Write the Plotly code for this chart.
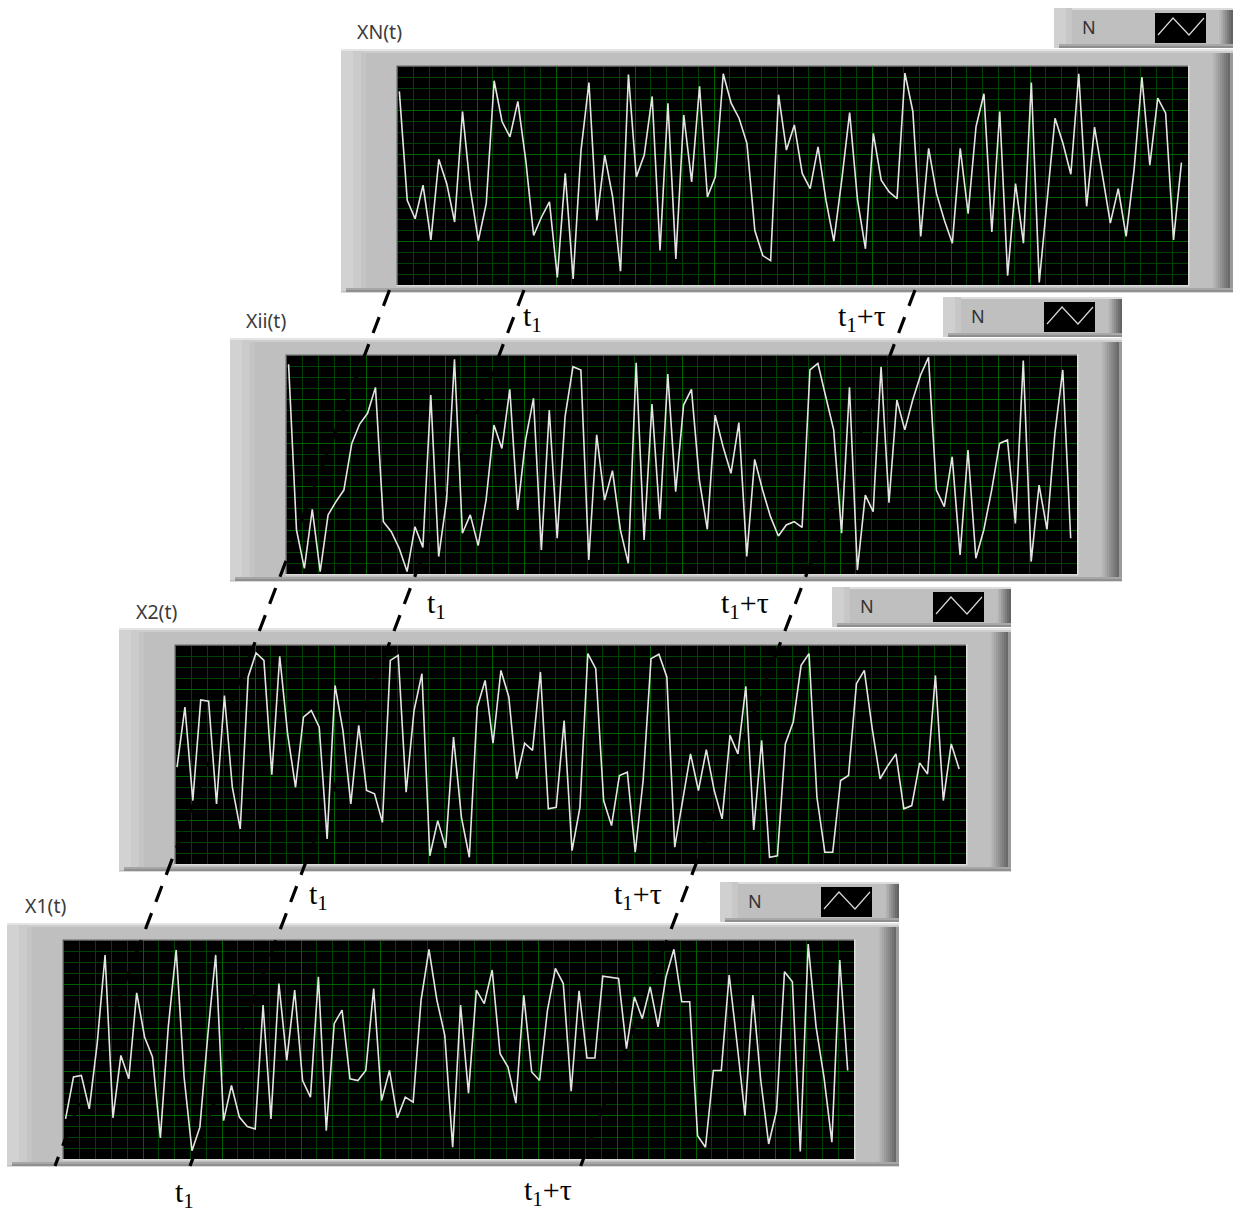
import plotly.graph_objects as go

W, H = 1238, 1209

sample_index = list(range(100))

xN_values = [88.8,38.9,30.4,45.8,20.7,57.6,46.5,28.9,79.6,43.5,20.4,37.3,93.7,75,68,84.2,57.3,22.7,31.2,38.1,
             3.5,51.2,2.8,61.9,92.9,29.6,59.6,40.4,6.3,96.5,49.6,59.6,86.5,15.8,83.4,12,78,47.3,91.1,40.4,
             49.6,96.9,83.4,76.5,65,25,13.5,11.2,87.3,61.9,73.4,51.2,44.2,63.4,38.9,20.1,48.1,79.1,38.9,16.6,
             69.6,48.1,42.7,39.6,97.2,79.6,22.3,62.7,41.9,29.6,19.2,62.7,32.7,72.7,87.7,24.3,79.6,4.3,46.5,19.2,
             92.9,1.2,38.9,76.5,65,50.8,96.9,36.1,72.4,51.2,28.4,44.2,22.3,52.7,95.4,55,85.7,78.8,20.7,56.1]

xii_values = [96.2,20.2,2.6,29.7,1.1,27.1,33.2,38.5,59.9,68.8,73.7,85.6,24,19.4,11.8,1.1,21.7,12.2,82.1,8,
              33.9,98.5,18.7,27.1,13,33.9,68.3,57.6,84.7,29.4,61.5,80.6,11,75.2,16.4,72.2,95.1,93.6,6.4,63.8,
              33.9,47.4,20.2,4.9,96.9,15.6,78,25.1,91.7,37.8,77.5,84.7,43.1,20.5,72.9,58.4,46.2,69.4,8,52.6,
              38.5,26.3,17.4,22.5,24,21.4,93.6,96.6,81.3,66.1,18.7,85.6,1.8,36.2,28.6,95.1,32.7,79.8,66.1,79.8,
              91.3,99.4,38.5,30.9,53.8,8.7,56.9,7.2,20.2,38.5,59.9,61.5,23.2,97.9,5.7,40.8,20.5,64.5,93.6,16.4]

x2_values = [44.4,72,29.1,75.3,74.7,27.6,77.3,35.2,16.1,85.8,96.8,93.4,41,95.3,59.7,35.2,67.4,70.4,62.8,11.5,
             81.9,61.3,27.6,63.6,33.7,32.2,19.1,93.4,95.7,32.9,70.4,87.3,3.8,19.9,7.4,58.2,21.4,3.1,72,84.2,
             55.4,88.8,76.6,39.1,55.4,52.1,88.1,25.3,26,65.8,6.1,26,96.5,89.6,29.1,17.6,40.6,42.1,5.4,38.3,
             94.2,96.2,85.8,7.7,29.1,50.5,33.7,52.4,33.7,20.7,59,50.5,81.5,15.6,56.7,3.1,3.8,55.1,65.1,91.1,
             96.5,30.6,5.4,5.4,38.3,40.6,82.7,88.8,62,39.1,45.2,50.5,25.3,26.8,46.4,41.3,86.5,29.1,55.1,43.6]

x1_values = [18.4,37.6,38.3,23,52.9,93.6,18.9,47.5,36.8,76.2,56,46.8,9.7,60.6,95.9,37.6,3.8,14.6,56.7,93.6,
             17.6,33.7,19.2,14.9,13.8,70.6,18.4,80.5,45.2,77.5,36,28.4,83.6,13,62.1,68.3,36.8,36,40.6,78.2,
             26.8,40.6,18.9,28.4,26.1,72.9,96.2,72.9,56.7,5.4,70.6,30.2,77.5,71.3,86.7,48.3,42.2,25.6,75.2,39.9,
             36,68.3,87.4,80.5,31.1,77.1,46.3,46.3,83.9,83.3,82.8,50.6,74.4,64.4,79,60.6,83.6,96.2,72.1,72.1,
             10.7,5.4,40.6,40.6,84.4,52.9,19.9,75.2,36,6.9,22.2,85.9,81.3,3.5,98.6,60.6,37.6,7.7,91.3,40.6]

series_names = ["XN(t)", "Xii(t)", "X2(t)", "X1(t)"]
series_values = [xN_values, xii_values, x2_values, x1_values]
box_label = "N"
t1_label = "t<sub>1</sub>"
t1_tau_label = "t<sub>1</sub>+τ"

# panel origin: offset of each instrument panel relative to the top one
offsets = [(0, 0), (-111, 289), (-222, 579), (-334, 874)]
first_sample_shift = [0.17, 0.2, 0.13, 0.2]
name_positions = [(380, 32), (265.5, 322), (156, 612), (45, 906)]


def px(x):
    return x / W


def py(y):
    return 1 - y / H


shapes = []


def rect(x0, y0, x1, y1, color):
    shapes.append(dict(type="rect", xref="paper", yref="paper", layer="below",
                       x0=px(x0), x1=px(x1), y0=py(y0), y1=py(y1),
                       fillcolor=color, line=dict(width=0)))


def hex_gray(v):
    return f"#{v:02x}{v:02x}{v:02x}"


def control_box(dx, dy):
    x0, x1, y0, y1 = 1054 + dx, 1233 + dx, 8 + dy, 48 + dy
    rect(x0, y0, x1, y1, "#bfbfbf")
    rect(x0, y0, x1, y0 + 2, "#dcdcdc")
    rect(x0, y0, x0 + 12, y1, "#d0d0d0")
    rect(x0 + 12, y0, x0 + 18, y1, "#c7c7c7")
    for i, g in enumerate([184, 170, 155, 140, 125, 110, 100]):
        rect(x1 - 14 + 2 * i, y0 + 2, x1 - 12 + 2 * i, y1, hex_gray(g))
    rect(x0 + 5, y1 - 2, x1, y1, "#8e8e8e")
    rect(x0 + 5, y1 - 4, x1, y1 - 2, "#a8a8a8")
    # black indicator with its little line sample
    rect(1155 + dx, 13 + dy, 1206 + dx, 43 + dy, "#000000")
    zig = [(1158, 35), (1173, 18), (1189, 35), (1204, 18)]
    path = "M" + " L".join(f"{px(a + dx)},{py(b + dy)}" for a, b in zig)
    shapes.append(dict(type="path", xref="paper", yref="paper", layer="below", path=path,
                       line=dict(color="#d8d8d8", width=1.2)))


def panel(dx, dy):
    x0, x1, y0, y1 = 341 + dx, 1233 + dx, 49 + dy, 293 + dy
    pl, pr, pt, pb = 398 + dx, 1188 + dx, 67 + dy, 285 + dy
    rect(x0, y0, x1, y1, "#bfbfbf")
    rect(x0, y0, x1, y0 + 2, "#e4e4e4")
    rect(x0, y0 + 2, x1, y0 + 4, "#cdcdcd")
    rect(x0, y0 + 2, x0 + 12, y1 - 2, "#d2d2d2")
    rect(x0 + 12, y0 + 2, x0 + 20, y1 - 2, "#cbcbcb")
    rect(x0 + 20, y0 + 4, x0 + 25, y1 - 3, "#c4c4c4")
    for i, g in enumerate([186, 176, 166, 156, 146, 136, 126, 116, 106]):
        rect(x1 - 21 + 2 * i, y0 + 4, x1 - 19 + 2 * i, y1 - 2, hex_gray(g))
    rect(x1 - 3, y0 + 4, x1, y1, "#9a9a9a")
    rect(x0 + 5, y1 - 5, x1, y1 - 3, "#a6a6a6")
    rect(x0 + 5, y1 - 3, x1, y1 - 1, "#8f8f8f")
    rect(x0, y1 - 1, x1, y1, "#dadada")
    # sunken frame of the plotting area, black face on top of it
    rect(pl - 1.5, pt - 1.5, pr + 1.5, pb + 1.5, "#dcdcdc")
    rect(pl - 1.5, pt - 1.5, pr, pb, "#565656")
    rect(pl, pt, pr, pb, "#000000")


for (dx, dy) in offsets:
    control_box(dx, dy)
    panel(dx, dy)

# dashed guide lines: over the gray chrome, and again per subplot above the grid but under the trace
DASH_TOP, DASH_BOTTOM = 290, 1166
DASH = dict(color="#000000", width=3.2, dash="17px,12px")
GUIDES = [(389.5, 55), (524, 190), (915, 580.7)]
for xa, xb in GUIDES:
    shapes.append(dict(type="line", xref="paper", yref="paper", layer="below",
                       x0=px(xa), y0=py(DASH_TOP), x1=px(xb), y1=py(DASH_BOTTOM), line=DASH))

fig = go.Figure()
layout = {}
for i, ((dx, dy), name, vals, sh) in enumerate(zip(offsets, series_names, series_values, first_sample_shift)):
    n = "" if i == 0 else str(i + 1)
    fig.add_trace(go.Scatter(x=sample_index, y=vals, mode="lines", name=name,
                             xaxis=f"x{n}", yaxis=f"y{n}", showlegend=False,
                             line=dict(color="#e4e4e4", width=1.6)))
    layout[f"xaxis{n}"] = dict(domain=[px(398 + dx), px(1188 + dx)], range=[-sh, 100 - sh],
                               anchor=f"y{n}", showticklabels=False, ticks="", zeroline=False,
                               showline=False, tick0=-sh, dtick=10, showgrid=True,
                               gridcolor="#006200", gridwidth=1.3,
                               minor=dict(tick0=-sh, dtick=2, showgrid=True, gridcolor="#004000",
                                          gridwidth=1.1, ticks=""))
    layout[f"yaxis{n}"] = dict(domain=[py(285 + dy), py(67 + dy)], range=[0, 100],
                               anchor=f"x{n}", showticklabels=False, ticks="", zeroline=False,
                               showline=False, tick0=0, dtick=20, showgrid=True,
                               gridcolor="#006200", gridwidth=1.3,
                               minor=dict(tick0=0, dtick=5, showgrid=True, gridcolor="#004000",
                                          gridwidth=1.1, ticks=""))
    for xa, xb in GUIDES:
        shapes.append(dict(type="line", xref=f"x{n}", yref=f"y{n}", layer="between",
                           x0=(xa - 398 - dx) / 7.9 - sh, y0=(285 + dy - DASH_TOP) / 2.18,
                           x1=(xb - 398 - dx) / 7.9 - sh, y1=(285 + dy - DASH_BOTTOM) / 2.18,
                           line=DASH))

annotations = []


def note(x, y, text, size, family, color="#000000"):
    annotations.append(dict(xref="paper", yref="paper", x=px(x), y=py(y), text=text, showarrow=False,
                            xanchor="center", yanchor="middle",
                            font=dict(size=size, family=family, color=color)))


for (dx, dy), name, (nx, ny) in zip(offsets, series_names, name_positions):
    note(nx, ny - 1, name, 19.5, "Noto Sans", "#3c3c3c")
    note(1089 + dx, 27 + dy, box_label, 18, "Noto Sans", "#333333")

SERIF = "Liberation Serif"
for (x, y) in [(532, 318), (436, 605), (318, 896), (184, 1194)]:
    note(x, y, t1_label, 30, SERIF)
for (x, y) in [(862, 318), (745, 605), (638, 896), (548, 1192)]:
    note(x, y, t1_tau_label, 30, SERIF)

fig.update_layout(width=W, height=H, margin=dict(l=0, r=0, t=0, b=0), autosize=False,
                  paper_bgcolor="#ffffff", plot_bgcolor="#000000",
                  shapes=shapes, annotations=annotations, **layout)

fig.write_html("out.html", config=dict(displayModeBar=False),
               post_script="document.body.style.margin='0';document.body.style.overflow='hidden';")
